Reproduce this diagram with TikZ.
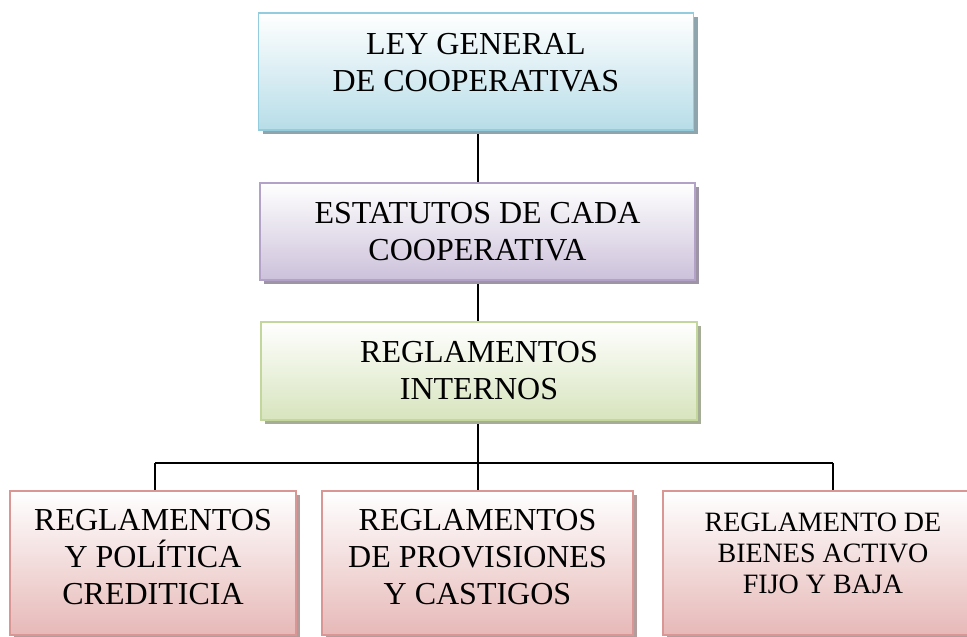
\documentclass[tikz,border=0pt]{standalone}
\usepackage{fontspec}
\setmainfont{Liberation Serif}
\usetikzlibrary{shadows,backgrounds}
\definecolor{azulborde}{HTML}{93CDDD}
\definecolor{azulfondo}{HTML}{B7DDE8}
\definecolor{azulsombra}{HTML}{8FA5AD}
\definecolor{moradoborde}{HTML}{B3A2C7}
\definecolor{moradofondo}{HTML}{CCC1DA}
\definecolor{moradosombra}{HTML}{9D95A6}
\definecolor{verdeborde}{HTML}{C3D69B}
\definecolor{verdefondo}{HTML}{D7E4BD}
\definecolor{verdesombra}{HTML}{A5AD96}
\definecolor{rosaborde}{HTML}{D99694}
\definecolor{rosafondo}{HTML}{E6B9B8}
\definecolor{rosasombra}{HTML}{B39C9C}
\begin{document}
\begin{tikzpicture}[x=1pt,y=-1pt,
  caja/.style={draw, line width=1.5pt, align=center, inner sep=0pt,
    font=\fontsize{32}{37}\selectfont},
  azul/.style={caja, draw=azulborde, top color=white, bottom color=azulfondo,
    drop shadow={shadow xshift=4pt, shadow yshift=-4pt, fill=azulsombra, opacity=1}},
  morado/.style={caja, draw=moradoborde, top color=white, bottom color=moradofondo,
    drop shadow={shadow xshift=4pt, shadow yshift=-4pt, fill=moradosombra, opacity=1}},
  verde/.style={caja, draw=verdeborde, top color=white, bottom color=verdefondo,
    drop shadow={shadow xshift=4pt, shadow yshift=-4pt, fill=verdesombra, opacity=1}},
  rosa/.style={caja, draw=rosaborde, top color=white, bottom color=rosafondo,
    minimum height=144pt,
    drop shadow={shadow xshift=4pt, shadow yshift=-4pt, fill=rosasombra, opacity=1}},
  linea/.style={draw=black, line width=1.2pt}]
\useasboundingbox (0,0) rectangle (967,637);

\node[azul, minimum width=435pt, minimum height=117pt] (ley) at (476,71.5)
  {LEY GENERAL\\DE COOPERATIVAS\\[-19pt]\mbox{}};
\node[morado, minimum width=435pt, minimum height=97pt] (estatutos) at (477.5,231.5)
  {ESTATUTOS DE CADA\\COOPERATIVA};
\node[verde, minimum width=436pt, minimum height=98pt] (internos) at (479,371)
  {REGLAMENTOS\\INTERNOS};

\node[rosa, minimum width=286pt] (credito) at (153,563)
  {REGLAMENTOS\\Y POLÍTICA\\CREDITICIA\\[-25pt]\mbox{}};
\node[rosa, minimum width=311pt] (provisiones) at (477.5,563)
  {REGLAMENTOS\\DE PROVISIONES\\Y CASTIGOS\\[-25pt]\mbox{}};
\node[rosa, minimum width=320pt, font=\fontsize{28}{31}\selectfont] (bienes) at (823,563)
  {REGLAMENTO DE\\BIENES ACTIVO\\FIJO Y BAJA\\[-12pt]\mbox{}};

\coordinate (bus) at (478,463);
\coordinate (izq) at (155,463);
\coordinate (der) at (833,463);
\begin{scope}[on background layer]
\draw[linea] (ley.south -| bus) -- (estatutos.north -| bus);
\draw[linea] (estatutos.south -| bus) -- (internos.north -| bus);
\draw[linea] (internos.south -| bus) -- (bus);
\draw[linea] (izq) -- (der);
\foreach \c/\n in {izq/credito,bus/provisiones,der/bienes}
  \draw[linea] (\c) -- (\c |- \n.north);
\end{scope}
\end{tikzpicture}
\end{document}
